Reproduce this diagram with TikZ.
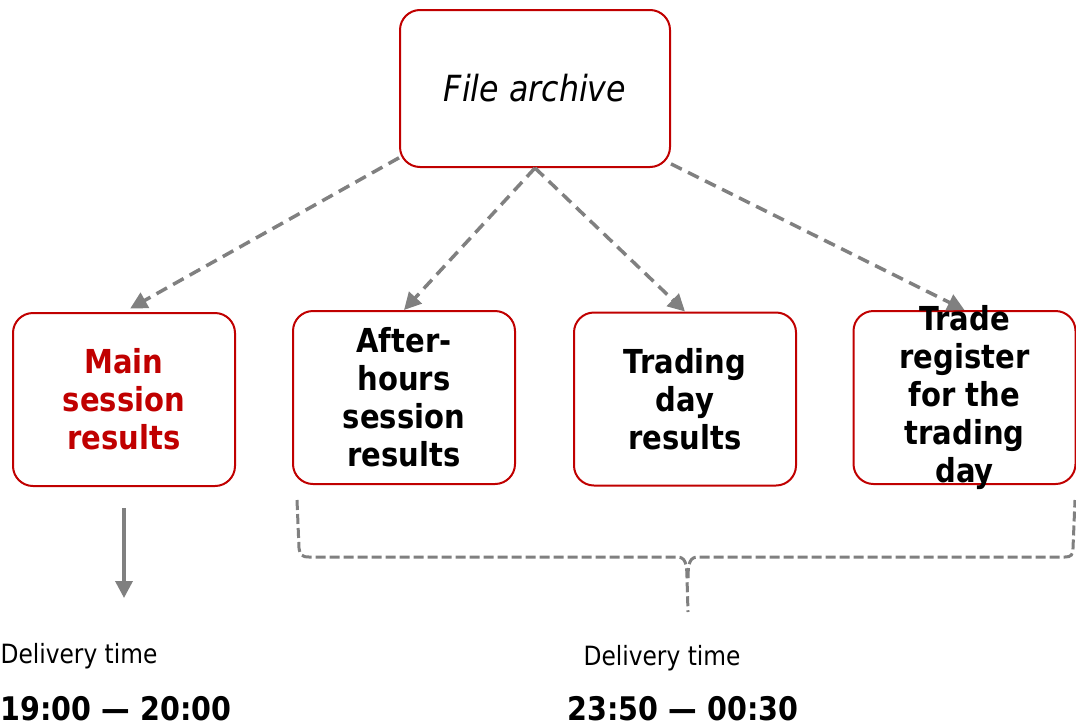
\documentclass[tikz,border=0pt]{standalone}
\usepackage{fontspec}
\setmainfont{DejaVu Sans}[FakeStretch=0.88]
\usepackage{tikz}
\usetikzlibrary{arrows.meta,positioning}
\definecolor{boxred}{RGB}{192, 0, 0}
\definecolor{linkgray}{RGB}{128, 128, 128}

\begin{document}
\begin{tikzpicture}[x=1pt, y=-1pt,
    box/.style={draw=boxred, line width=2pt, rounded corners=20pt, minimum width=222pt, minimum height=173pt, align=center, font=\fontsize{33}{38}\selectfont\bfseries},
    link/.style={draw=linkgray, line width=3.5pt, dash pattern=on 12pt off 7pt, -{Triangle[length=17pt, width=17pt]}},
    brace/.style={draw=linkgray, line width=3pt, dash pattern=on 10pt off 4pt},
    note/.style={anchor=base, inner sep=0pt, font=\fontsize{26.5}{31}\selectfont},
    hours/.style={anchor=base, inner sep=0pt, font=\fontsize{32.5}{38}\selectfont\bfseries}]
    \useasboundingbox (0,0) rectangle (1076,726);

    % Archive
    \node[box, minimum width=270pt, minimum height=157pt, font=\fontsize{36}{43}\selectfont\itshape] (archive) at (535, 88.5) {File archive};

    % Result files
    \node[box, text=boxred] (main) at (124, 399.5) {Main\\session\\results};
    \node[box] (after) at (404, 397.5) {After-\\hours\\session\\results};
    \node[box] (trading) at (685, 399) {Trading\\day\\results};
    \node[box, inner ysep=-8pt] (register) at (964.5, 397.5) {Trade\\register\\for the\\trading\\day};

    % Delivery times
    \node[note] (mainnote) at (79, 663) {Delivery time};
    \node[hours] (maintime) at (116, 720) {19:00 — 20:00};
    \node[note] (restnote) at (662, 665) {Delivery time};
    \node[hours] (resttime) at (683, 720) {23:50 — 00:30};
    \coordinate (mainend) at (124, 598);

    % Arrows
    \draw[link, shorten >=7pt] (archive.207) -- (main.north);
    \draw[link] (archive.south) -- (after.north);
    \draw[link] (archive.south) -- (trading.north);
    \draw[link] (archive.331) -- (register.north);
    \draw[link, solid] ([yshift=-21pt]main.south) -- (mainend);

    % Brace
    \draw[brace] (297, 500) -- (299, 548) .. controls (300, 555) and (302, 557) .. (309, 557) -- (677, 557)
        .. controls (685, 557) and (687, 563) .. (687, 578) -- (688, 612);
    \draw[brace] (688, 578) .. controls (688, 563) and (690, 557) .. (698, 557) -- (1065, 557)
        .. controls (1071, 557) and (1073, 555) .. (1073, 548) -- (1075, 500);
\end{tikzpicture}
\end{document}
